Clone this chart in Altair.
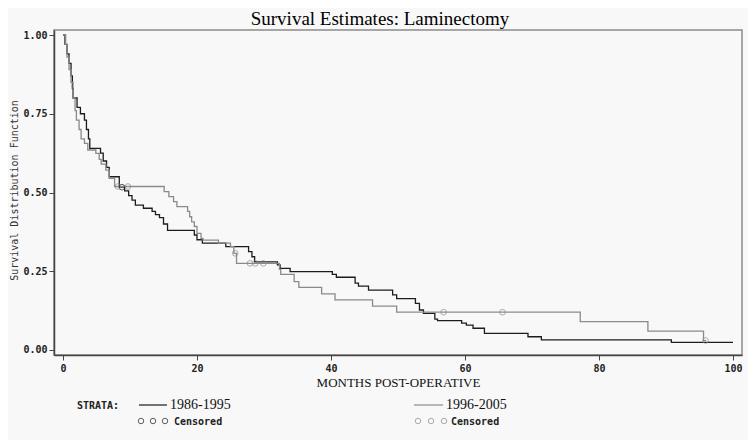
import altair as alt
import pandas as pd

# ---- data ----
chart_title = "Survival Estimates: Laminectomy"
strata_names = ["1986-1995", "1996-2005"]
line_colors = ["#1c1c1c", "#8a8a8a"]

t_a = [0.0, 0.3, 0.6, 0.9, 1.2, 1.4, 1.5, 2.1, 2.6, 3.2, 3.5, 3.8, 4.0, 5.6, 6.0, 6.5, 6.9,
       8.4, 9.2, 9.8, 10.3, 10.8, 12.0, 13.3, 13.8, 14.4, 15.0, 15.6, 19.6, 20.0, 20.8, 24.3,
       27.7, 28.2, 28.6, 32.0, 32.4, 33.9, 40.2, 40.8, 43.6, 44.1, 45.6, 49.2, 49.8, 52.6,
       53.2, 53.8, 55.5, 55.9, 59.5, 60.2, 61.2, 62.9, 69.4, 71.4, 90.8, 100.0]
s_a = [1.000, 0.970, 0.940, 0.910, 0.870, 0.830, 0.800, 0.770, 0.750, 0.730, 0.700, 0.670, 0.640, 0.625, 0.600, 0.580, 0.550,
       0.517, 0.505, 0.490, 0.476, 0.460, 0.450, 0.440, 0.430, 0.420, 0.400, 0.380, 0.365, 0.350, 0.339, 0.328,
       0.312, 0.296, 0.280, 0.270, 0.259, 0.249, 0.240, 0.231, 0.212, 0.203, 0.190, 0.175, 0.163, 0.148,
       0.127, 0.116, 0.098, 0.093, 0.085, 0.079, 0.069, 0.053, 0.042, 0.032, 0.024, 0.024]

t_b = [0.0, 0.4, 0.6, 0.9, 1.2, 1.5, 1.8, 2.0, 2.4, 2.7, 3.2, 3.7, 4.9, 5.4, 5.7, 6.4, 6.9, 7.7,
       15.1, 15.8, 16.5, 17.0, 18.6, 18.9, 19.2, 19.6, 20.0, 20.6, 20.9, 23.2, 25.0, 25.5, 25.9,
       32.3, 32.5, 34.5, 35.2, 38.6, 40.6, 46.2, 49.8, 77.2, 87.3, 95.6, 96.0]
s_b = [1.000, 0.970, 0.930, 0.890, 0.850, 0.800, 0.760, 0.730, 0.700, 0.670, 0.656, 0.635, 0.624, 0.605, 0.590, 0.571, 0.545, 0.519,
       0.503, 0.487, 0.471, 0.455, 0.440, 0.423, 0.407, 0.392, 0.370, 0.354, 0.349, 0.339, 0.328, 0.307, 0.275,
       0.256, 0.240, 0.217, 0.199, 0.178, 0.159, 0.139, 0.120, 0.090, 0.060, 0.030, 0.030]

cens_a_t = [8.8]
cens_a_s = [0.517]
cens_b_t = [8.2, 9.7, 25.7, 27.9, 28.7, 29.9, 56.8, 65.6, 95.9]
cens_b_s = [0.519, 0.519, 0.307, 0.275, 0.275, 0.275, 0.120, 0.120, 0.030]

x_ticks = [0, 20, 40, 60, 80, 100]
y_ticks = [0.0, 0.25, 0.50, 0.75, 1.00]

curves = pd.concat([
    pd.DataFrame({"t": t_a, "s": s_a, "strata": strata_names[0]}),
    pd.DataFrame({"t": t_b, "s": s_b, "strata": strata_names[1]}),
])
cens = pd.concat([
    pd.DataFrame({"t": cens_a_t, "s": cens_a_s, "strata": strata_names[0]}),
    pd.DataFrame({"t": cens_b_t, "s": cens_b_s, "strata": strata_names[1]}),
])

xscale = alt.Scale(domain=[-1.343, 101.343], nice=False, zero=False)
yscale = alt.Scale(domain=[-0.0159, 1.0159], nice=False, zero=False)
color = alt.Color("strata:N", scale=alt.Scale(domain=strata_names, range=line_colors), legend=None)

xaxis = alt.Axis(values=x_ticks, title="MONTHS POST-OPERATIVE", titleFont="Liberation Serif",
                 titleFontSize=13, titleFontWeight="normal", titleColor="#111",
                 titleY=27, titleBaseline="middle", labelPadding=3)
yaxis = alt.Axis(values=y_ticks, format=".2f", title="Survival Distribution Function",
                 titleFont="DejaVu Sans Mono", titleFontSize=10, titleFontWeight="normal",
                 titleColor="#333", titleX=-40, titleY=160, titleBaseline="middle",
                 labelPadding=2)

lines = alt.Chart(curves).mark_line(interpolate="step-after", strokeWidth=1.3).encode(
    x=alt.X("t:Q", scale=xscale, axis=xaxis),
    y=alt.Y("s:Q", scale=yscale, axis=yaxis),
    color=color,
)
points = alt.Chart(cens).mark_point(shape="circle", filled=False, size=32, strokeWidth=1).encode(
    x=alt.X("t:Q", scale=xscale),
    y=alt.Y("s:Q", scale=yscale),
    color=color,
)

one = pd.DataFrame({"a": [0]})


def txt(label, x, y, align="left", baseline="middle", **kw):
    return alt.Chart(pd.DataFrame({"label": [label]})).mark_text(
        align=align, baseline=baseline, **kw
    ).encode(x=alt.value(x), y=alt.value(y), text="label:N")


def seg(x1, x2, y, c):
    return alt.Chart(one).mark_rule(color=c, strokeWidth=1.2).encode(
        x=alt.value(x1), x2=alt.value(x2), y=alt.value(y))


def circ(x, y, c):
    return alt.Chart(one).mark_point(shape="circle", filled=False, size=30, strokeWidth=1, color=c).encode(
        x=alt.value(x), y=alt.value(y))


mono_bold = dict(font="DejaVu Sans Mono", fontWeight="bold", fontSize=10, color="#222")
serif = dict(font="Liberation Serif", fontSize=14, color="#111")

title_layer = txt(chart_title, 326, -5, align="center", baseline="alphabetic",
                  font="Liberation Serif", fontSize=19, color="#000")

legend_layers = [
    txt("STRATA:", 23, 376, **mono_bold),
    seg(85, 113, 375, line_colors[0]),
    txt(strata_names[0], 116, 375, **serif),
    circ(87, 391, line_colors[0]), circ(99, 391, line_colors[0]), circ(111, 391, line_colors[0]),
    txt("Censored", 120, 392, **mono_bold),
    seg(360, 389, 375, line_colors[1]),
    txt(strata_names[1], 392, 375, **serif),
    circ(364, 391, line_colors[1]), circ(377, 391, line_colors[1]), circ(390, 391, line_colors[1]),
    txt("Censored", 397, 392, **mono_bold),
]

chart = alt.layer(lines, points, title_layer, *legend_layers).properties(
    width=688,
    height=325,
    padding={"left": 46, "top": 22, "right": 6, "bottom": 85},
    autosize=alt.AutoSizeParams(type="none"),
    background="#f8f8f8",
).configure_view(
    stroke="#8a8a8a", strokeWidth=1.5
).configure_axis(
    grid=False, domainColor="#444", domainWidth=1.5, tickColor="#444", tickSize=5,
    labelFont="DejaVu Sans Mono", labelFontWeight="bold", labelFontSize=10, labelColor="#222",
)

chart.save("out.html", embed_options={"renderer": "svg", "actions": False})
